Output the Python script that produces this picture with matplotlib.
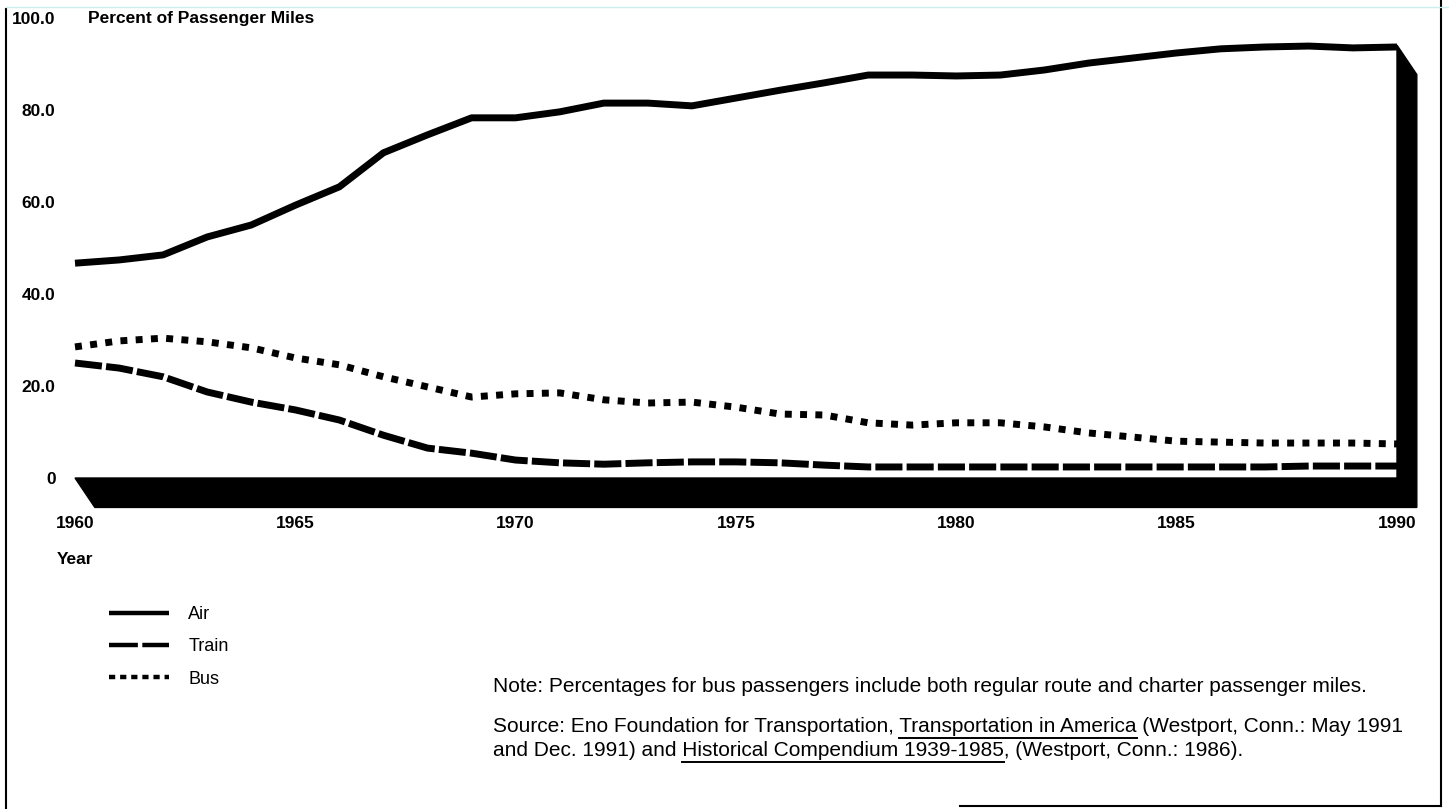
import matplotlib
matplotlib.use("Agg")
import matplotlib.pyplot as plt
from matplotlib.lines import Line2D
from matplotlib.patches import Polygon

plt.rcParams["font.family"] = ["Liberation Sans", "DejaVu Sans"]

# values (percent of passenger miles)
years = list(range(1960, 1991))
air = [46.7, 47.4, 48.5, 52.4, 55.0, 59.3, 63.3, 70.7, 74.6, 78.3, 78.3,
       79.6, 81.5, 81.5, 80.9, 82.6, 84.3, 85.9, 87.6, 87.6, 87.4,
       87.6, 88.7, 90.2, 91.3, 92.4, 93.3, 93.7, 93.9, 93.5, 93.7]
train = [25.0, 23.9, 22.0, 18.7, 16.5, 14.8, 12.6, 9.3, 6.5, 5.4, 3.9,
         3.3, 3.0, 3.3, 3.5, 3.5, 3.3, 2.8, 2.4, 2.4, 2.4,
         2.4, 2.4, 2.4, 2.4, 2.4, 2.4, 2.4, 2.6, 2.6, 2.6]
bus = [28.5, 29.8, 30.4, 29.6, 28.3, 26.1, 24.6, 22.0, 19.8, 17.6, 18.3,
       18.5, 17.0, 16.3, 16.5, 15.4, 13.9, 13.7, 12.0, 11.5, 12.0,
       12.0, 11.1, 9.8, 8.9, 8.0, 7.8, 7.6, 7.6, 7.6, 7.4]

x_ticks = [1960, 1965, 1970, 1975, 1980, 1985, 1990]
y_ticks = [0, 20, 40, 60, 80, 100]
y_tick_labels = ["0", "20.0", "40.0", "60.0", "80.0", "100.0"]

W, H = 1449, 809


def fx(px):
    return px / W


def fy(py):
    return 1 - py / H


fig = plt.figure(figsize=(W / 100, H / 100), dpi=100)
ax = fig.add_axes([fx(75), fy(478), (1397 - 75) / W, (478 - 18) / H])
ax.set_xlim(1960, 1990)
ax.set_ylim(0, 100)
for s in ax.spines.values():
    s.set_visible(False)

# 3D floor and right wall
dx, dy = 0.45, -6.4
x0, x1 = years[0], years[-1]
floor = Polygon([(x0, 0), (x1, 0), (x1, air[-1] + 0.4), (x1 + dx, air[-1] + 0.4 + dy),
                 (x1 + dx, dy), (x0 + dx, dy)],
                closed=True, facecolor="black", edgecolor="black", clip_on=False, zorder=1)
ax.add_patch(floor)

ax.plot(years, air, color="black", linewidth=5, solid_capstyle="butt", clip_on=False, zorder=3)
ax.plot(years, train, color="black", linewidth=5, dashes=(3.9, 0.6), clip_on=False, zorder=3)
ax.plot(years, bus, color="black", linewidth=5, dashes=(1.0, 1.2), clip_on=False, zorder=3)

ax.set_xticks(x_ticks)
ax.set_xticklabels([str(v) for v in x_ticks], fontsize=12.5, fontweight="bold")
ax.set_yticks(y_ticks)
ax.set_yticklabels(y_tick_labels, fontsize=12.5, fontweight="bold")
ax.tick_params(axis="x", length=0, pad=27)
ax.tick_params(axis="y", length=0, pad=14)

fig.text(fx(88), fy(18), "Percent of Passenger Miles", fontsize=12.5, fontweight="bold", va="center")
fig.text(fx(57), fy(560), "Year", fontsize=12.5, fontweight="bold", va="center")

handles = [
    Line2D([], [], color="black", linewidth=3.2, solid_capstyle="butt"),
    Line2D([], [], color="black", linewidth=3.2, dashes=(6.5, 1.0)),
    Line2D([], [], color="black", linewidth=3.2, dashes=(1.4, 1.1)),
]
fig.legend(handles, ["Air", "Train", "Bus"], loc="upper left",
           bbox_to_anchor=(fx(109), fy(606)), frameon=False, fontsize=13,
           handlelength=3.3, handletextpad=1.1, labelspacing=0.85,
           borderpad=0, borderaxespad=0)

note_kw = dict(fontsize=15, va="center")
fig.text(fx(493), fy(687), "Note: Percentages for bus passengers include both regular route "
         "and charter passenger miles.", **note_kw)
src1_pre = "Source: Eno Foundation for Transportation, "
src1_ul = "Transportation in America"
src1_post = " (Westport, Conn.: May 1991"
src2_pre = "and Dec. 1991) and "
src2_ul = "Historical Compendium 1939-1985"
src2_post = ", (Westport, Conn.: 1986)."
fig.text(fx(493), fy(727), src1_pre + src1_ul + src1_post, **note_kw)
fig.text(fx(493), fy(750), src2_pre + src2_ul + src2_post, **note_kw)

# underline the two titles
renderer = fig.canvas.get_renderer()


def text_width(s):
    t = fig.text(0, 0, s, **note_kw)
    w = t.get_window_extent(renderer).width
    t.remove()
    return w


for pre, ul, ypx in [(src1_pre, src1_ul, 738), (src2_pre, src2_ul, 762)]:
    end = 493 + text_width(pre + ul)
    start = end - text_width(ul)
    fig.add_artist(Line2D([fx(start), fx(end)], [fy(ypx), fy(ypx)], color="black",
                          linewidth=1.4, transform=fig.transFigure))

# page border from the scan
fig.add_artist(Line2D([fx(6), fx(6)], [fy(9), fy(809)], color="black", linewidth=1.5,
                      transform=fig.transFigure))
fig.add_artist(Line2D([fx(1441), fx(1441)], [fy(0), fy(806)], color="black", linewidth=1.5,
                      transform=fig.transFigure))
fig.add_artist(Line2D([fx(960), fx(1441)], [fy(806), fy(806)], color="black", linewidth=1.5,
                      transform=fig.transFigure))
fig.add_artist(Line2D([fx(6), fx(1449)], [fy(7), fy(7)], color="#cdeeee", linewidth=1,
                      transform=fig.transFigure))

fig.savefig("out.png", dpi=100)
